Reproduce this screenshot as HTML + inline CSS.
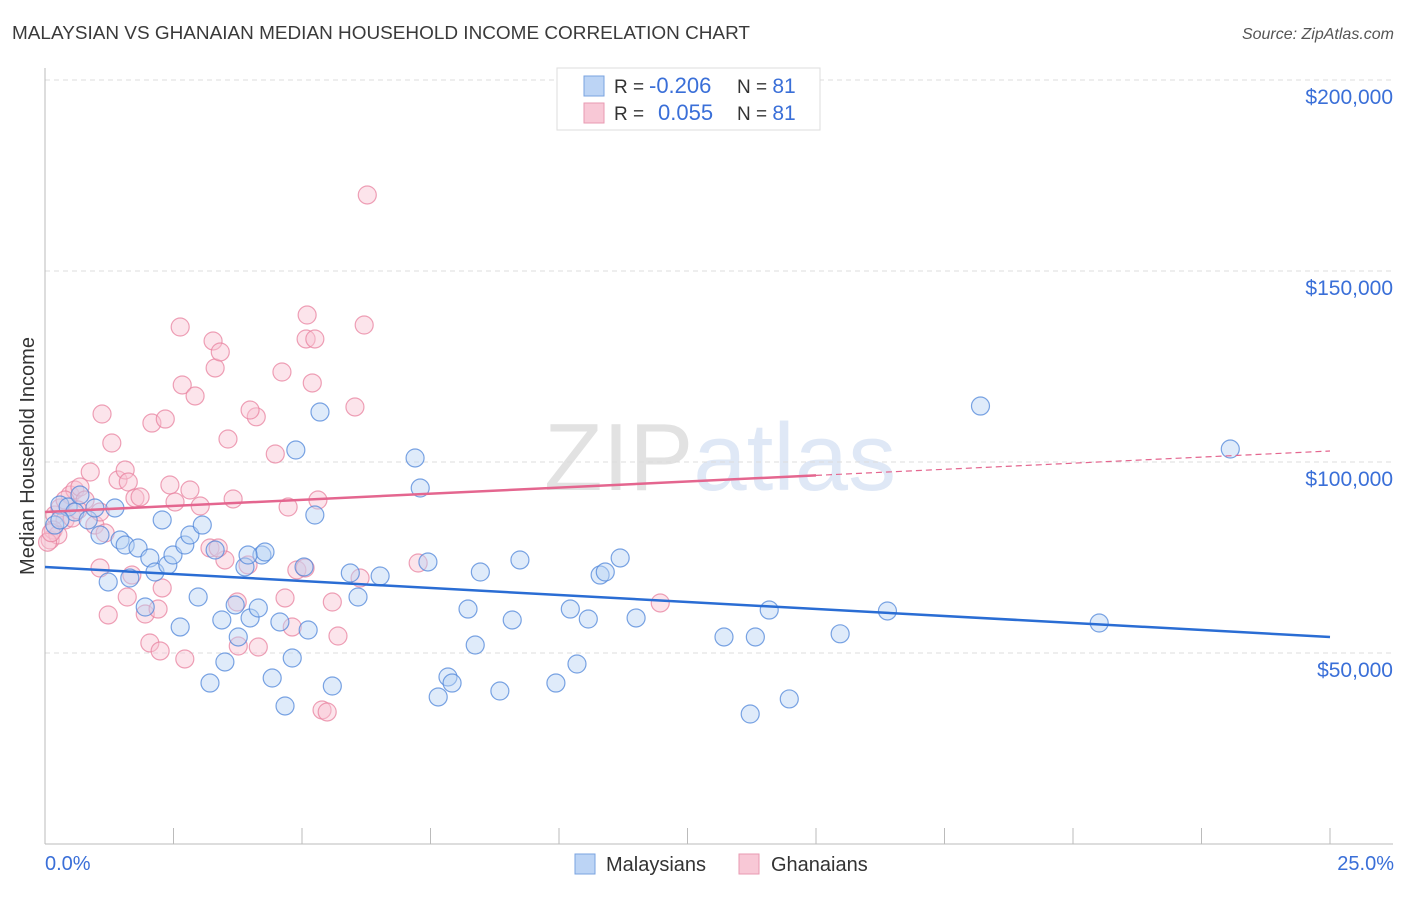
<!DOCTYPE html>
<html><head><meta charset="utf-8"><style>
body{margin:0;background:#fff;font-family:"Liberation Sans",sans-serif;}
svg text{font-family:"Liberation Sans",sans-serif;}
</style></head><body>
<svg id="chart" width="1406" height="892" xmlns="http://www.w3.org/2000/svg">
<text x="12" y="39" font-size="18" fill="#3a3a3a" textLength="738" lengthAdjust="spacingAndGlyphs">MALAYSIAN VS GHANAIAN MEDIAN HOUSEHOLD INCOME CORRELATION CHART</text>
<text x="1394" y="39" font-size="16" fill="#555" font-style="italic" text-anchor="end">Source: ZipAtlas.com</text>
<text x="720" y="490" font-size="96" fill="#e8e8e8" text-anchor="middle" font-family="Liberation Serif"><tspan fill="#e2e2e2">ZIP</tspan><tspan fill="#dfe8f6" font-family="Liberation Sans">atlas</tspan></text>
<g id="grid"></g>
<g id="axes"></g>
<g id="pink-pts"></g>
<g id="blue-pts"></g>
<g id="trends"></g>
<text transform="translate(34,456) rotate(-90)" font-size="20" fill="#333" text-anchor="middle">Median Household Income</text>
<text x="45" y="870" font-size="20" fill="#3a6fd8">0.0%</text>
<text x="1394" y="870" font-size="20" fill="#3a6fd8" text-anchor="end">25.0%</text>
<g>
<rect x="575" y="854" width="20" height="20" fill="#bcd4f5" stroke="#7aa3e0"/>
<text x="606" y="871" font-size="20" fill="#333">Malaysians</text>
<rect x="739" y="854" width="20" height="20" fill="#f8c8d6" stroke="#e89ab2"/>
<text x="771" y="871" font-size="20" fill="#333">Ghanaians</text>
</g>
<g>
<rect x="557" y="68" width="263" height="62" fill="#fff" stroke="#ddd"/>
<rect x="584" y="76" width="20" height="20" fill="#bcd4f5" stroke="#7aa3e0"/>
<rect x="584" y="103" width="20" height="20" fill="#f8c8d6" stroke="#e89ab2"/>
<text x="614" y="93" font-size="19" fill="#333">R = <tspan x="649" font-size="22" fill="#3a6fd8">-0.206</tspan><tspan x="737">N = </tspan><tspan font-size="21" fill="#3a6fd8">81</tspan></text>
<text x="614" y="120" font-size="19" fill="#333">R = <tspan x="658" font-size="22" fill="#3a6fd8">0.055</tspan><tspan x="737">N = </tspan><tspan font-size="21" fill="#3a6fd8">81</tspan></text>
</g>
</svg>
<script>
const yTicks=[50000,100000,150000,200000];
const yTickLabels=["$50,000","$100,000","$150,000","$200,000"];
const blueX=[0.19,0.29,0.45,0.58,0.68,0.84,0.97,1.07,1.23,1.36,1.46,1.56,1.65,1.81,1.95,2.04,2.14,2.28,2.39,2.49,2.63,2.72,2.82,2.98,3.06,3.21,3.31,3.44,3.50,3.70,3.76,3.89,3.99,4.15,4.22,4.28,4.42,4.57,4.67,4.81,4.88,5.04,5.12,5.25,5.35,5.59,5.94,6.09,6.52,7.20,7.30,7.45,7.65,7.84,7.92,8.23,8.37,8.47,8.85,9.09,9.24,9.94,10.22,10.35,10.57,10.80,10.90,11.19,11.50,13.21,13.72,13.82,14.09,14.48,15.47,16.39,18.20,20.51,23.06,3.95,0.29];
const blueY=[83500,88750,88220,86910,91360,84820,87960,80890,68590,87960,79580,78270,69630,77490,62040,74870,71200,84820,73040,75650,56810,78270,80890,64660,83500,42140,76960,58640,47650,62570,54190,72520,59170,61780,75650,76440,43450,58120,36130,48690,103140,72520,56020,86120,113080,41360,70940,64660,70150,101050,93190,73830,38490,43720,42140,61510,52090,71200,40050,58640,74350,42140,61510,47120,58900,70410,71200,74870,59170,54190,34030,54190,61250,37970,55020,61000,114650,57850,103400,75650,84820];
const pinkX=[0.10,0.19,0.29,0.39,0.49,0.58,0.68,0.78,0.88,0.97,1.07,1.17,1.23,1.30,1.11,1.42,1.56,1.62,1.69,1.75,1.85,1.95,2.04,2.08,2.20,2.24,2.28,2.34,2.43,2.53,2.63,2.67,2.72,2.82,2.92,3.02,3.21,3.27,3.31,3.41,3.50,3.56,3.66,3.74,3.76,4.11,4.15,4.48,4.61,4.67,4.73,4.81,4.90,5.06,5.10,5.08,5.25,5.20,5.39,5.49,5.59,5.70,6.03,6.13,6.21,6.27,7.26,11.97,0.16,0.25,0.39,0.53,1.07,1.60,3.37,3.95,3.99,5.31,0.64,0.05,0.12];
const pinkY=[79580,86120,87960,84820,91360,92670,93450,90050,97380,83500,86910,81410,59950,104970,112560,95290,97900,94760,70410,90580,90840,60210,52620,110200,61510,50530,67020,111250,93980,89530,135340,120160,48430,92670,117280,88480,77490,131680,124610,128800,74350,106020,90320,63350,51830,111830,51570,102100,123560,64400,88220,56810,71730,72250,138480,132200,132200,120690,35080,34560,63350,54450,114400,69630,135860,169900,73560,63090,82200,80890,90050,85340,72250,64660,77490,73040,113610,90050,87440,79000,81500];
const blueTrend=[72520,54190];
const pinkTrend=[86910,102880];
const pinkSolidEnd=15;
const NS="http://www.w3.org/2000/svg";
const X0=45,X1=1330,Ytop=80,PX50=191;
function xs(v){return X0+v/25*(X1-X0);}
function ys(v){return Ytop+(200000-v)/50000*PX50;}
function mk(tag,attrs,parent){const e=document.createElementNS(NS,tag);for(const k in attrs)e.setAttribute(k,attrs[k]);parent.appendChild(e);return e;}
const grid=document.getElementById('grid');
yTicks.forEach((t,i)=>{
 const l=mk('line',{x1:X0,x2:1393,y1:ys(t),y2:ys(t),stroke:'#dcdcdc','stroke-dasharray':'5,4'},grid);
 
 
 const tx=mk('text',{x:1393,y:ys(t)+24,'font-size':21,fill:'#3a6fd8','text-anchor':'end'},grid);
 tx.textContent=yTickLabels[i];
 
 
});
const axes=document.getElementById('axes');
const ya=mk('line',{x1:X0,x2:X0,y1:68,y2:844,stroke:'#bbb'},axes);


const xa=mk('line',{x1:X0,x2:1393,y1:844,y2:844,stroke:'#bbb'},axes);


for(let i=0;i<=10;i++){
 const t=mk('line',{x1:xs(i*2.5),x2:xs(i*2.5),y1:828,y2:844,stroke:'#bbb'},axes);
 
 
}
function pts(xa,ya,g,fill,stroke,name){
 for(let i=0;i<xa.length;i++){
  const c=mk('circle',{cx:xs(xa[i]),cy:ys(ya[i]),r:9,fill:fill,'fill-opacity':0.45,stroke:stroke,'stroke-opacity':0.75,'stroke-width':1.2},g);
  
  
 }
}
pts(pinkX,pinkY,document.getElementById('pink-pts'),'#f8c3d3','#e8829f','ghanaian-point');
pts(blueX,blueY,document.getElementById('blue-pts'),'#b9d2f3','#4f86d9','malaysian-point');
const tr=document.getElementById('trends');
const bt=mk('line',{x1:xs(0),x2:xs(25),y1:ys(blueTrend[0]),y2:ys(blueTrend[1]),stroke:'#2a6dd4','stroke-width':2.5},tr);


const pAt=v=>pinkTrend[0]+(pinkTrend[1]-pinkTrend[0])*v/25;
const ps=mk('line',{x1:xs(0),x2:xs(pinkSolidEnd),y1:ys(pinkTrend[0]),y2:ys(pAt(pinkSolidEnd)),stroke:'#e4668f','stroke-width':2.5},tr);


const pd=mk('line',{x1:xs(pinkSolidEnd),x2:xs(25),y1:ys(pAt(pinkSolidEnd)),y2:ys(pinkTrend[1]),stroke:'#e4668f','stroke-width':1.2,'stroke-dasharray':'6,4'},tr);


</script>
</body></html>
